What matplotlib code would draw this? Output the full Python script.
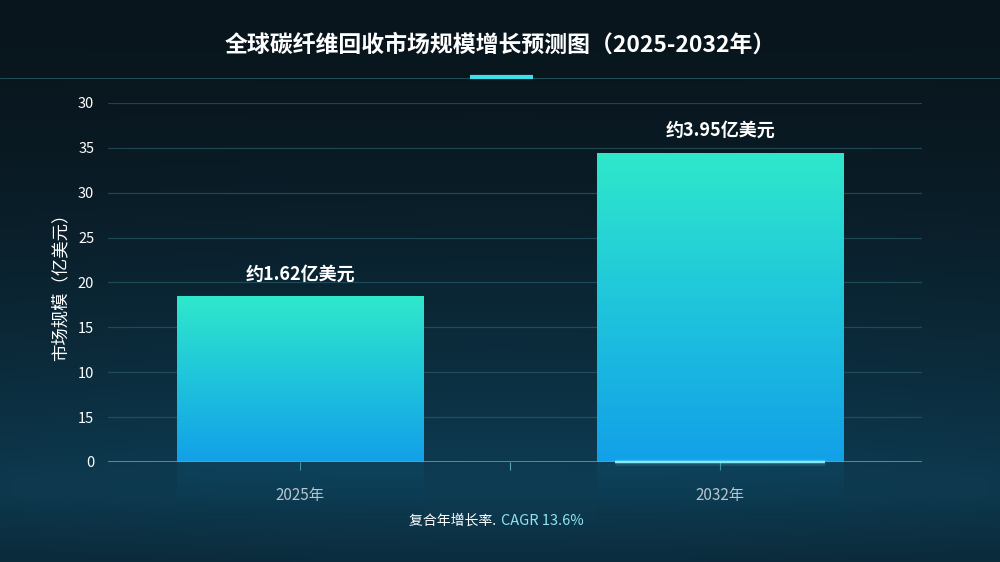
import numpy as np
import matplotlib.pyplot as plt
from matplotlib.colors import LinearSegmentedColormap

plt.rcParams['font.family'] = ['Noto Sans CJK SC', 'DejaVu Sans']

years = ['2025年', '2032年']
values = [18.4, 34.4]
value_labels = ['约1.62亿美元', '约3.95亿美元']
ytick_values = [0, 5, 10, 15, 20, 25, 30, 35, 40]
ytick_labels = ['0', '15', '10', '15', '20', '25', '30', '35', '30']
title = '全球碳纤维回收市场规模增长预测图（2025-2032年）'
ylabel = '市场规模（亿美元）'
cagr_prefix = '复合年增长率. '
cagr_text = 'CAGR 13.6%'

fig = plt.figure(figsize=(10, 5.62), dpi=100)

# background gradient
bg = fig.add_axes([0, 0, 1, 1], zorder=-10)
ny, nx = 281, 500
yy = np.linspace(0, 1, ny)[:, None]
xx = np.linspace(0, 1, nx)[None, :]
top = np.array([0.035, 0.085, 0.115])
bot = np.array([0.05, 0.21, 0.29])
t = np.clip((yy - 0.05) / 0.8, 0, 1) ** 1.6
t = t * (1 - 0.4 * np.clip((yy - 0.88) / 0.12, 0, 1))
glow = 0.2 * np.exp(-((xx - 0.5) / 0.5) ** 2)
img = top + (bot - top) * (t * (1 + glow))[..., None]
bg.imshow(np.clip(img, 0, 1), aspect='auto', extent=(0, 1, 1, 0))
bg.set_axis_off()

# title and decoration
fig.text(0.5, 1 - 45 / 562, title, ha='center', va='center', color='white',
         fontsize=16.5, fontweight='bold')
bg.plot([0.0, 1.0], [78 / 562, 78 / 562], color='#3a8fa0', lw=0.7, alpha=0.45)
bg.plot([0.47, 0.533], [77 / 562, 77 / 562], color='#3de0ea', lw=3, solid_capstyle='butt')
bg.set_xlim(0, 1)
bg.set_ylim(1, 0)

ax = fig.add_axes([0.108, 0.178, 0.814, 0.6388])
ax.set_facecolor('none')

cmap = LinearSegmentedColormap.from_list('bar', ['#12a0e8', '#1fc4dc', '#2fe8cb'])
refl = LinearSegmentedColormap.from_list('r', ['#0b3346', '#0e5878'])
grad = np.linspace(0, 1, 256)[:, None]
width = 0.586
x = np.arange(len(years))
for xi, v, lab in zip(x, values, value_labels):
    ax.imshow(grad, cmap=cmap, aspect='auto', origin='lower',
              extent=(xi - width / 2, xi + width / 2, 0, v), zorder=3)
    # faint reflection below the axis
    ax.imshow(grad, cmap=refl, aspect='auto', origin='lower', alpha=0.3,
              extent=(xi - width / 2, xi + width / 2, -6, 0), zorder=2, clip_on=False)
    ax.text(xi, v + 1.5, lab, ha='center', va='bottom', color='white',
            fontsize=13, fontweight='bold', zorder=5)

ax.set_xlim(-0.457, 1.48)
ax.set_ylim(0, 40)

for yv in ytick_values[1:]:
    ax.axhline(yv, color='#2d6272', lw=0.9, alpha=0.6, zorder=1)
ax.axhline(0, color='#5aa6bc', lw=1.1, zorder=4)
for lw, a in [(5, 0.1), (3, 0.2), (1.5, 0.9)]:
    ax.plot([0.75, 1.25], [0, 0], color='#8ff4ff', lw=lw, alpha=a, zorder=6,
            solid_capstyle='butt', clip_on=False)

ax.set_yticks(ytick_values)
ax.set_yticklabels(ytick_labels)
ax.set_xticks(x)
ax.set_xticklabels(years, fontweight='medium')
ax.set_xticks([0.5], minor=True)
ax.tick_params(axis='y', length=0, pad=10, labelcolor='#ffffff', labelsize=10.5)
ax.tick_params(axis='x', which='both', length=6, width=0.8, color='#5aa6bc',
               labelcolor='#ffffff', labelsize=11, pad=12)
for s in ax.spines.values():
    s.set_visible(False)

fig.text(0.06, 1 - 283 / 562, ylabel, rotation=90, ha='center', va='center',
         color='#ffffff', fontsize=12.5, fontweight='medium')

fig.text(0.499, 1 - 521 / 562, cagr_prefix, ha='right', va='center',
         color='#ffffff', fontsize=10, fontweight='medium')
fig.text(0.501, 1 - 521 / 562, cagr_text, ha='left', va='center',
         color='#8fe6ee', fontsize=10.5, fontweight='medium')

fig.savefig('out.png', dpi=100)
